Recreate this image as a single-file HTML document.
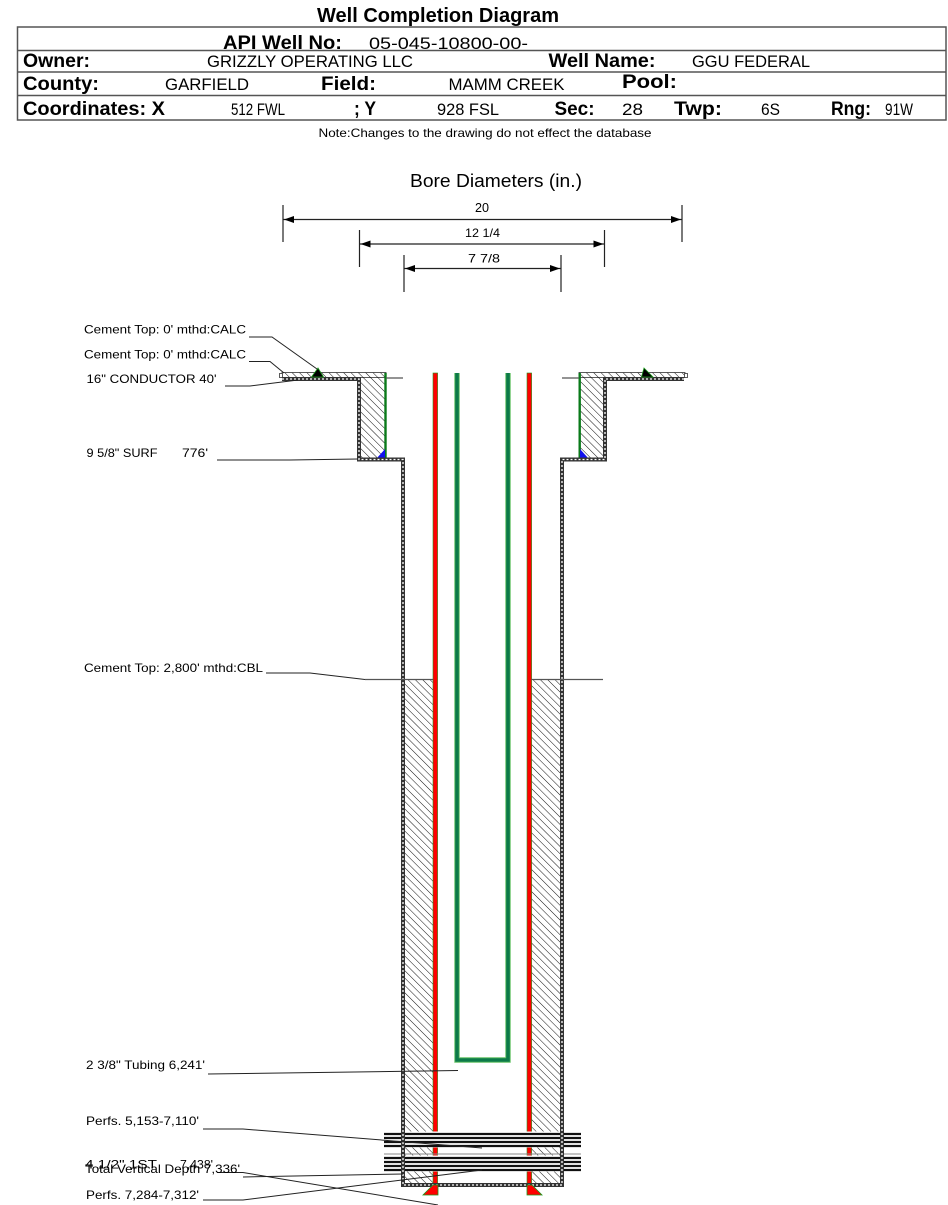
<!DOCTYPE html>
<html>
<head>
<meta charset="utf-8">
<style>
html,body{margin:0;padding:0;background:#fff;}
svg{display:block;}
text{font-family:"Liberation Sans",Arial,sans-serif;fill:#000;}
.b{font-weight:bold;font-size:19px;}
.r{font-size:17px;}
.l{font-size:12px;}
</style>
</head>
<body>
<svg width="948" height="1205" viewBox="0 0 948 1205" xmlns="http://www.w3.org/2000/svg">
<defs>
<pattern id="h" width="5.2" height="5.2" patternUnits="userSpaceOnUse" patternTransform="rotate(-45)">
<line x1="0" y1="0" x2="0" y2="5.2" stroke="#111" stroke-width="1"/>
</pattern>
</defs>
<rect width="948" height="1205" fill="#fff"/>

<!-- Header -->
<text x="317" y="22" font-weight="bold" font-size="20" textLength="242" lengthAdjust="spacingAndGlyphs">Well Completion Diagram</text>
<rect x="17.5" y="27" width="928.5" height="93" fill="none" stroke="#555" stroke-width="1.5"/>
<line x1="17.5" y1="50.5" x2="946" y2="50.5" stroke="#555" stroke-width="1.5"/>
<line x1="17.5" y1="72" x2="946" y2="72" stroke="#555" stroke-width="1.5"/>
<line x1="17.5" y1="95.5" x2="946" y2="95.5" stroke="#555" stroke-width="1.5"/>

<text class="b" x="223" y="49" textLength="119" lengthAdjust="spacingAndGlyphs">API Well No:</text>
<text class="r" x="369" y="49" textLength="159" lengthAdjust="spacingAndGlyphs">05-045-10800-00-</text>

<text class="b" x="23" y="67" textLength="67" lengthAdjust="spacingAndGlyphs">Owner:</text>
<text class="r" x="207" y="67" textLength="206" lengthAdjust="spacingAndGlyphs">GRIZZLY OPERATING LLC</text>
<text class="b" x="548.5" y="67" textLength="107" lengthAdjust="spacingAndGlyphs">Well Name:</text>
<text class="r" x="692" y="67" textLength="118" lengthAdjust="spacingAndGlyphs">GGU FEDERAL</text>

<text class="b" x="23" y="90" textLength="76" lengthAdjust="spacingAndGlyphs">County:</text>
<text class="r" x="165" y="90" textLength="84" lengthAdjust="spacingAndGlyphs">GARFIELD</text>
<text class="b" x="321" y="90" textLength="55" lengthAdjust="spacingAndGlyphs">Field:</text>
<text class="r" x="448.5" y="90" textLength="116" lengthAdjust="spacingAndGlyphs">MAMM CREEK</text>
<text class="b" x="622" y="88" textLength="55" lengthAdjust="spacingAndGlyphs">Pool:</text>

<text class="b" x="23" y="115" textLength="142" lengthAdjust="spacingAndGlyphs">Coordinates: X</text>
<text class="r" x="231" y="115" textLength="54" lengthAdjust="spacingAndGlyphs">512 FWL</text>
<text class="b" x="354" y="115" textLength="22" lengthAdjust="spacingAndGlyphs">; Y</text>
<text class="r" x="437" y="115" textLength="62" lengthAdjust="spacingAndGlyphs">928 FSL</text>
<text class="b" x="554.5" y="115" textLength="40" lengthAdjust="spacingAndGlyphs">Sec:</text>
<text class="r" x="622" y="115" textLength="21" lengthAdjust="spacingAndGlyphs">28</text>
<text class="b" x="674" y="115" textLength="48" lengthAdjust="spacingAndGlyphs">Twp:</text>
<text class="r" x="761" y="115" textLength="19" lengthAdjust="spacingAndGlyphs">6S</text>
<text class="b" x="831" y="115" textLength="40" lengthAdjust="spacingAndGlyphs">Rng:</text>
<text class="r" x="885" y="115" textLength="28" lengthAdjust="spacingAndGlyphs">91W</text>

<text x="318.5" y="137" font-size="12" textLength="333" lengthAdjust="spacingAndGlyphs">Note:Changes to the drawing do not effect the database</text>

<!-- Bore diameters -->
<text x="410" y="187" font-size="18" textLength="172" lengthAdjust="spacingAndGlyphs">Bore Diameters (in.)</text>
<g stroke="#222" stroke-width="1.2">
<line x1="283" y1="205" x2="283" y2="242"/>
<line x1="682" y1="205" x2="682" y2="242"/>
<line x1="283" y1="219.5" x2="682" y2="219.5"/>
<line x1="359.5" y1="230" x2="359.5" y2="267"/>
<line x1="604.5" y1="230" x2="604.5" y2="267"/>
<line x1="359.5" y1="244" x2="604.5" y2="244"/>
<line x1="404" y1="255" x2="404" y2="292"/>
<line x1="561" y1="255" x2="561" y2="292"/>
<line x1="404" y1="268.5" x2="561" y2="268.5"/>
</g>
<g fill="#000">
<polygon points="284,219.5 294,216 294,223"/>
<polygon points="681,219.5 671,216 671,223"/>
<polygon points="360.5,244 370.5,240.5 370.5,247.5"/>
<polygon points="603.5,244 593.5,240.5 593.5,247.5"/>
<polygon points="405,268.5 415,265 415,272"/>
<polygon points="560,268.5 550,265 550,272"/>
</g>
<text x="475" y="212" font-size="12.5" textLength="14" lengthAdjust="spacingAndGlyphs">20</text>
<text x="465" y="237" font-size="12" textLength="35" lengthAdjust="spacingAndGlyphs">12 1/4</text>
<text x="468" y="262.5" font-size="12" textLength="32" lengthAdjust="spacingAndGlyphs">7 7/8</text>

<!-- Flanges (conductor) -->
<rect x="282" y="372.5" width="104" height="5" fill="url(#h)" stroke="#333" stroke-width="0.8"/>
<rect x="579" y="372.5" width="106" height="5" fill="url(#h)" stroke="#333" stroke-width="0.8"/>
<rect x="279.5" y="373.5" width="3" height="4" fill="#fff" stroke="#333" stroke-width="0.8"/>
<rect x="684.5" y="373.5" width="3" height="4" fill="#fff" stroke="#333" stroke-width="0.8"/>

<!-- Surface cement -->
<rect x="361" y="377" width="24" height="81" fill="url(#h)"/>
<rect x="580" y="377" width="23" height="81" fill="url(#h)"/>

<!-- Production cement -->
<rect x="405" y="679" width="28" height="505" fill="url(#h)"/>
<rect x="531.5" y="679" width="28.5" height="505" fill="url(#h)"/>

<!-- Surface casing (green) -->
<rect x="384.3" y="373" width="2.4" height="86" fill="#0a7a1a"/>
<rect x="578.5" y="373" width="2.4" height="86" fill="#0a7a1a"/>
<polygon points="385,449 385,458.5 376.5,458.5" fill="#1010ee"/>
<polygon points="580,449 580,458.5 588.5,458.5" fill="#1010ee"/>

<!-- Production casing (red) -->
<rect x="433" y="373" width="4.6" height="813" fill="#ff0000" stroke="#1a9a1a" stroke-width="0.6"/>
<rect x="527" y="373" width="4.6" height="813" fill="#ff0000" stroke="#1a9a1a" stroke-width="0.6"/>

<!-- Tubing -->
<path d="M457,373 V1060 H508 V373" fill="none" stroke="#66c266" stroke-width="5.4"/>
<path d="M457,373 V1060 H508 V373" fill="none" stroke="#0c7a48" stroke-width="3.6"/>

<!-- Perforations -->
<rect x="384" y="1131.5" width="197" height="16" fill="#fff"/>
<rect x="384" y="1155.5" width="197" height="16" fill="#fff"/>
<g stroke="#111" stroke-width="2.2">
<line x1="384" y1="1134" x2="581" y2="1134"/>
<line x1="384" y1="1138" x2="581" y2="1138"/>
<line x1="384" y1="1142" x2="581" y2="1142"/>
<line x1="384" y1="1146" x2="581" y2="1146"/>
<line x1="384" y1="1158" x2="581" y2="1158"/>
<line x1="384" y1="1162" x2="581" y2="1162"/>
<line x1="384" y1="1166" x2="581" y2="1166"/>
<line x1="384" y1="1170" x2="581" y2="1170"/>
</g>
<line x1="384" y1="1154" x2="581" y2="1154" stroke="#888" stroke-width="1"/>

<!-- Hole walls (checkered) -->
<path d="M282,379 H359 V459.5 H403 V1185 H562 V459.5 H605 V379 H684" fill="none" stroke="#333" stroke-width="4"/>
<path d="M282,379 H359 V459.5 H403 V1185 H562 V459.5 H605 V379 H684" fill="none" stroke="#fff" stroke-width="1.3" stroke-dasharray="2 2"/>

<!-- Shoe triangles -->
<polygon points="433,1185 438,1185 438,1195 423,1195" fill="#ff0000" stroke="#1a9a1a" stroke-width="0.8"/>
<polygon points="527,1185 532,1185 542,1195 527,1195" fill="#ff0000" stroke="#1a9a1a" stroke-width="0.8"/>

<!-- Cement top markers -->
<polygon points="318,368 323.5,377 311.5,377" fill="#000" stroke="#1a9a1a" stroke-width="0.8"/>
<polygon points="644,368 653,377 641.5,377" fill="#000" stroke="#1a9a1a" stroke-width="0.8"/>

<!-- depth lines -->
<g stroke="#555" stroke-width="1.2">
<line x1="386" y1="378" x2="403" y2="378"/>
<line x1="562" y1="378" x2="579" y2="378"/>
<line x1="365" y1="679.5" x2="433" y2="679.5"/>
<line x1="531.5" y1="679.5" x2="603" y2="679.5"/>
</g>

<!-- Leaders -->
<g fill="none" stroke="#222" stroke-width="1">
<polyline points="249,337 272,337 317,369"/>
<polyline points="249,361.5 270,361.5 284,373"/>
<polyline points="225,386 250,386 298,380"/>
<polyline points="217,460 290,460 358,459"/>
<polyline points="266,673 310,673 365,679.5"/>
<polyline points="208,1074 458,1070.5"/>
<polyline points="203,1129 243,1129 482,1148"/>
<polyline points="217,1172.5 243,1172.5 438,1205"/>
<polyline points="243,1177 403,1174"/>
<polyline points="203,1200 243,1200 482,1170"/>
</g>

<!-- Labels -->
<text class="l" x="84" y="333.5" textLength="162" lengthAdjust="spacingAndGlyphs">Cement Top: 0' mthd:CALC</text>
<text class="l" x="84" y="358.5" textLength="162" lengthAdjust="spacingAndGlyphs">Cement Top: 0' mthd:CALC</text>
<text class="l" x="86.5" y="383" textLength="130" lengthAdjust="spacingAndGlyphs">16" CONDUCTOR  40'</text>
<text class="l" x="86.5" y="457" textLength="71" lengthAdjust="spacingAndGlyphs">9 5/8" SURF</text>
<text class="l" x="182" y="457" textLength="26" lengthAdjust="spacingAndGlyphs">776'</text>
<text class="l" x="84" y="672" textLength="179" lengthAdjust="spacingAndGlyphs">Cement Top: 2,800' mthd:CBL</text>
<text class="l" x="86" y="1069" textLength="119" lengthAdjust="spacingAndGlyphs">2 3/8" Tubing 6,241'</text>
<text class="l" x="86" y="1125" textLength="113" lengthAdjust="spacingAndGlyphs">Perfs. 5,153-7,110'</text>
<text class="l" x="85" y="1168.5" textLength="72" lengthAdjust="spacingAndGlyphs">4 1/2" 1ST</text>
<text class="l" x="180" y="1168.5" textLength="33" lengthAdjust="spacingAndGlyphs">7,438'</text>
<text class="l" x="85" y="1173" textLength="155" lengthAdjust="spacingAndGlyphs">Total Vertical Depth 7,336'</text>
<text class="l" x="86" y="1199" textLength="113" lengthAdjust="spacingAndGlyphs">Perfs. 7,284-7,312'</text>
</svg>
</body>
</html>
